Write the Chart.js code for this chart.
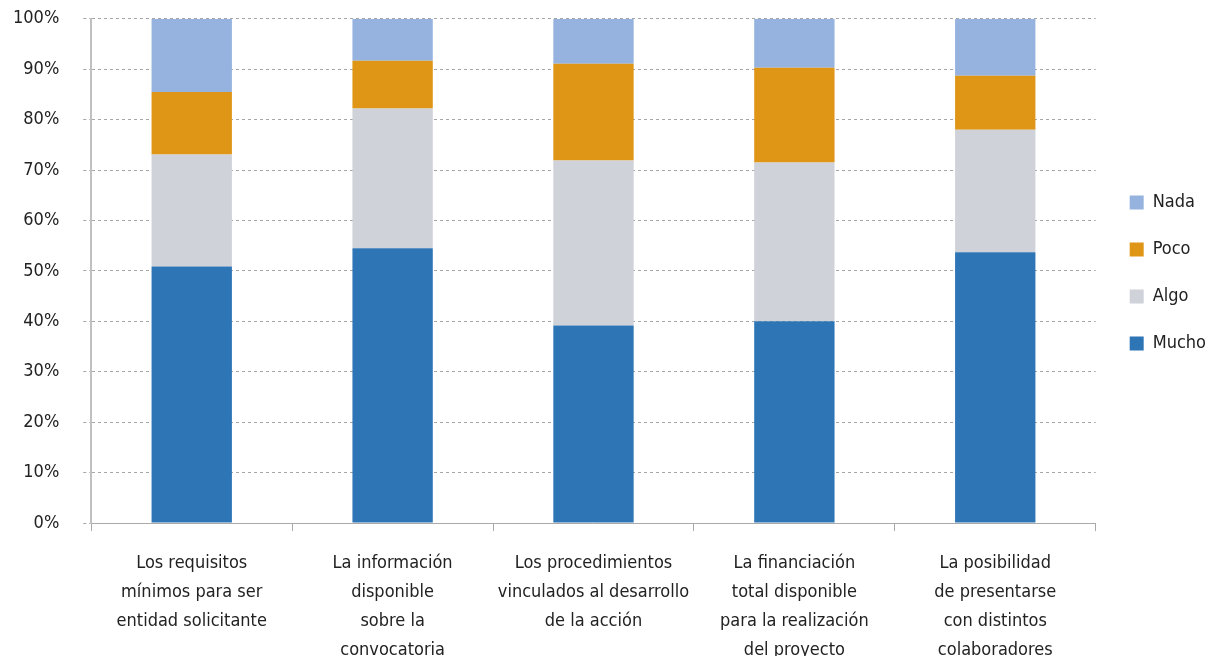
<!DOCTYPE html>
<html>
<head>
<meta charset="utf-8">
<script src="https://cdn.jsdelivr.net/npm/chart.js@4"></script>
<style>
  html, body { margin: 0; padding: 0; background: #fff; overflow: hidden; }
  #wrap { width: 1207px; height: 656px; overflow: hidden; position: relative; }
  #myChart { position: absolute; left: -17px; top: -16px; }
</style>
</head>
<body>
<div id="wrap"><canvas id="myChart" width="1228" height="703"></canvas></div>
<script>
var element = document.getElementById('myChart').getContext('2d');

// categories (multi-line labels)
var categories = [
    ['Los requisitos', 'mínimos para ser', 'entidad solicitante'],
    ['La información', 'disponible', 'sobre la', 'convocatoria'],
    ['Los procedimientos', 'vinculados al desarrollo', 'de la acción'],
    ['La financiación', 'total disponible', 'para la realización', 'del proyecto'],
    ['La posibilidad', 'de presentarse', 'con distintos', 'colaboradores']
];

// percentages
var mucho = [50.9, 54.5, 39.2, 40.0, 53.7];
var algo  = [22.2, 27.7, 32.7, 31.5, 24.3];
var poco  = [12.4,  9.5, 19.2, 18.8, 10.7];
var nada  = [14.5,  8.3,  8.9,  9.7, 11.3];

var yTicks = [0, 10, 20, 30, 40, 50, 60, 70, 80, 90, 100];

var fontFamily = '"Liberation Sans Narrow", "DejaVu Sans Condensed", "Liberation Sans", sans-serif';

function makeSet(label, data, color) {
    return {
        label: label,
        data: data,
        backgroundColor: color,
        borderWidth: 0,
        barPercentage: 0.4,
        categoryPercentage: 1.0
    };
}

var chartData = {
    labels: categories,
    datasets: [
        makeSet('Mucho', mucho, '#2E75B6'),
        makeSet('Algo', algo, '#CFD2D9'),
        makeSet('Poco', poco, '#DF9617'),
        makeSet('Nada', nada, '#95B3DE')
    ]
};

// keep the legend centred on the plot area, a bit to the right
var legendPlace = {
    id: 'legendPlace',
    afterLayout: function (chart) {
        var l = chart.legend;
        var area = chart.chartArea;
        l.top = area.top + 2;
        l.bottom = area.bottom + 2;
        l.height = area.bottom - area.top;
        l.left += 5;
        l.right += 5;
    }
};

var chartOptions = {
    responsive: false,
    animation: false,
    layout: { padding: { left: 6, right: 0, top: 8, bottom: 4 } },
    plugins: {
        tooltip: { enabled: false },
        legend: {
            position: 'right',
            reverse: true,
            labels: {
                boxWidth: 14,
                boxHeight: 14,
                padding: 29,
                color: '#222',
                font: { family: fontFamily, size: 18 }
            }
        }
    },
    scales: {
        x: {
            stacked: true,
            border: { display: true, color: '#aaaaaa', width: 1 },
            grid: {
                display: true,
                drawOnChartArea: false,
                drawTicks: true,
                tickLength: 8,
                color: '#aaaaaa',
                offset: true
            },
            ticks: {
                color: '#222',
                padding: 18,
                maxRotation: 0,
                autoSkip: false,
                font: { family: fontFamily, size: 18, lineHeight: 1.61 }
            }
        },
        y: {
            stacked: true,
            min: 0,
            max: 100,
            // border.dash styles the gridlines in v4
            border: { display: true, color: '#c0c0c0', width: 2, dash: [3, 3] },
            grid: {
                color: '#a6a6a6',
                lineWidth: 1,
                tickLength: 8,
                tickColor: '#a6a6a6',
                tickBorderDash: [3, 3]
            },
            afterBuildTicks: function (axis) {
                axis.ticks = yTicks.map(function (v) { return { value: v }; });
            },
            ticks: {
                color: '#222',
                padding: 24,
                font: { family: fontFamily, size: 18 },
                callback: function (v) { return v + '%'; }
            }
        }
    }
};

var chart = new Chart(element, {type: 'bar', data: chartData, options: chartOptions, plugins: [legendPlace]});
</script>
</body>
</html>
